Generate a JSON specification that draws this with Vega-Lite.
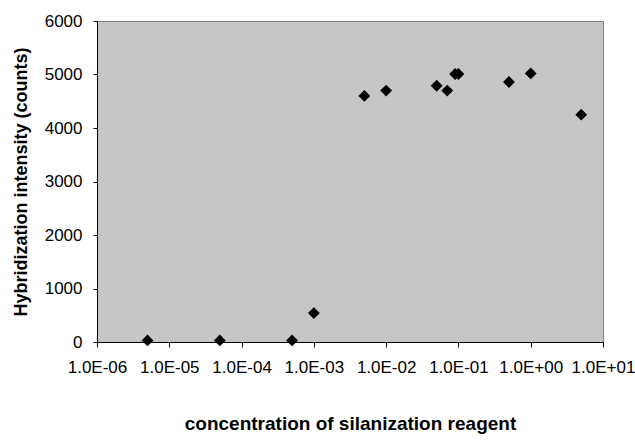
{
  "$schema": "https://vega.github.io/schema/vega-lite/v6.json",
  "width": 506,
  "height": 321,
  "autosize": {"type": "none"},
  "padding": {"left": 97, "top": 21, "right": 32, "bottom": 98},
  "background": "white",
  "config": {
    "font": "Liberation Sans",
    "view": {"fill": "#c6c6c6", "stroke": "#808080", "strokeWidth": 1},
    "axis": {"grid": false, "domainColor": "black", "tickColor": "black", "labelColor": "black", "titleColor": "black"}
  },
  "data": {
    "values": [
      {"conc": 5e-6, "intensity": 30},
      {"conc": 5e-5, "intensity": 30},
      {"conc": 5e-4, "intensity": 30},
      {"conc": 1e-3, "intensity": 540},
      {"conc": 5e-3, "intensity": 4600},
      {"conc": 1e-2, "intensity": 4700},
      {"conc": 5e-2, "intensity": 4790},
      {"conc": 7e-2, "intensity": 4700},
      {"conc": 9e-2, "intensity": 5010},
      {"conc": 1e-1, "intensity": 5010},
      {"conc": 5e-1, "intensity": 4860},
      {"conc": 1, "intensity": 5020},
      {"conc": 5, "intensity": 4250}
    ]
  },
  "mark": {"type": "point", "shape": "diamond", "filled": true, "color": "black", "size": 140, "opacity": 1},
  "encoding": {
    "x": {
      "field": "conc",
      "type": "quantitative",
      "scale": {"type": "log", "domain": [1e-6, 10], "nice": false},
      "axis": {
        "title": "concentration of silanization reagent",
        "titleFontSize": 19,
        "titleFontWeight": "bold",
        "titlePadding": 39,
        "values": [1e-6, 1e-5, 1e-4, 1e-3, 1e-2, 1e-1, 1, 10],
        "labelExpr": "'1.0E' + (round(log(datum.value)/LN10) < 0 ? '-' : '+') + (abs(round(log(datum.value)/LN10)) < 10 ? '0' : '') + abs(round(log(datum.value)/LN10))",
        "labelFontSize": 17,
        "labelPadding": 12,
        "tickSize": 5,
        "labelOverlap": false,
        "labelFlush": false
      }
    },
    "y": {
      "field": "intensity",
      "type": "quantitative",
      "scale": {"domain": [0, 6000], "nice": false},
      "axis": {
        "title": "Hybridization intensity (counts)",
        "titleFontSize": 18,
        "titleFontWeight": "bold",
        "titlePadding": 14,
        "format": "d",
        "values": [0, 1000, 2000, 3000, 4000, 5000, 6000],
        "labelFontSize": 17,
        "labelPadding": 11,
        "tickSize": 4,
        "labelOverlap": false,
        "labelFlush": false
      }
    }
  }
}
